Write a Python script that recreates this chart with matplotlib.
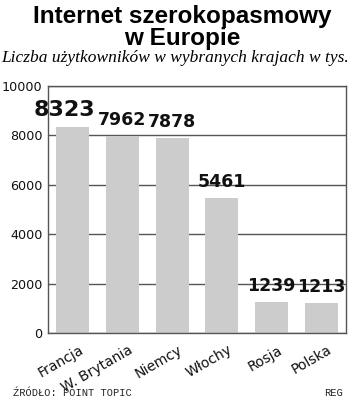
import numpy as np
import matplotlib.pyplot as plt
import matplotlib.transforms as mtransforms

# users of broadband internet, thousands
countries = ['Francja', 'W. Brytania', 'Niemcy', 'Włochy', 'Rosja', 'Polska']
users = [8323, 7962, 7878, 5461, 1239, 1213]
yticks = [0, 2000, 4000, 6000, 8000, 10000]

line_col = '#555555'
bar_col = '#cccccc'

fig = plt.figure(figsize=(3.5, 4.04), dpi=100)
ax = fig.add_axes([48 / 350, 1 - 333 / 404, 298 / 350, 247 / 404])

x = np.arange(len(countries))
ax.bar(x, users, width=0.66, color=bar_col, zorder=2)
ax.set_xlim(-0.5, len(countries) - 0.5)
ax.set_ylim(0, 10000)
ax.set_yticks(yticks)
ax.set_yticklabels([str(t) for t in yticks], fontsize=9.2, color='#111111')
ax.yaxis.grid(True, color=line_col, linewidth=1, zorder=1)
ax.tick_params(axis='both', length=0)
ax.tick_params(axis='y', pad=4)
for s in ax.spines.values():
    s.set_color(line_col)
    s.set_linewidth(1)

ax.set_xticks(x)
ax.set_xticklabels(countries, rotation=30, ha='right', rotation_mode='anchor',
                   fontsize=10, color='#111111')
shift = mtransforms.ScaledTranslation(6 / 100, -5 / 100, fig.dpi_scale_trans)
for lab in ax.get_xticklabels():
    lab.set_transform(lab.get_transform() + shift)

# value labels; the first one is larger and nudged left
for i, v in enumerate(users):
    size = 16 if i == 0 else 12.5
    dx = -6 if i == 0 else 0
    ax.annotate(str(v), (x[i], v), xytext=(dx, 5), textcoords='offset points',
                ha='center', va='bottom', fontsize=size, fontweight='bold',
                color='#111111', zorder=4)

fig.text(0.52, 1 - 23 / 404, 'Internet szerokopasmowy', ha='center', va='baseline',
         fontsize=17.5, fontweight='bold', family='Liberation Sans')
fig.text(0.52, 1 - 45 / 404, 'w Europie', ha='center', va='baseline',
         fontsize=17.5, fontweight='bold', family='Liberation Sans')
fig.text(0.5, 1 - 62 / 404, 'Liczba użytkowników w wybranych krajach w tys.',
         ha='center', va='baseline', fontsize=12.5, style='italic',
         family='Liberation Serif')

fig.text(13 / 350, 1 - 396 / 404, 'ŹRÓDŁO: POINT TOPIC', ha='left', va='baseline',
         fontsize=7.5, family='Liberation Mono', color='#222222')
fig.text(343 / 350, 1 - 396 / 404, 'REG', ha='right', va='baseline',
         fontsize=7.5, family='Liberation Mono', color='#222222')

fig.savefig('out.png', dpi=100)
